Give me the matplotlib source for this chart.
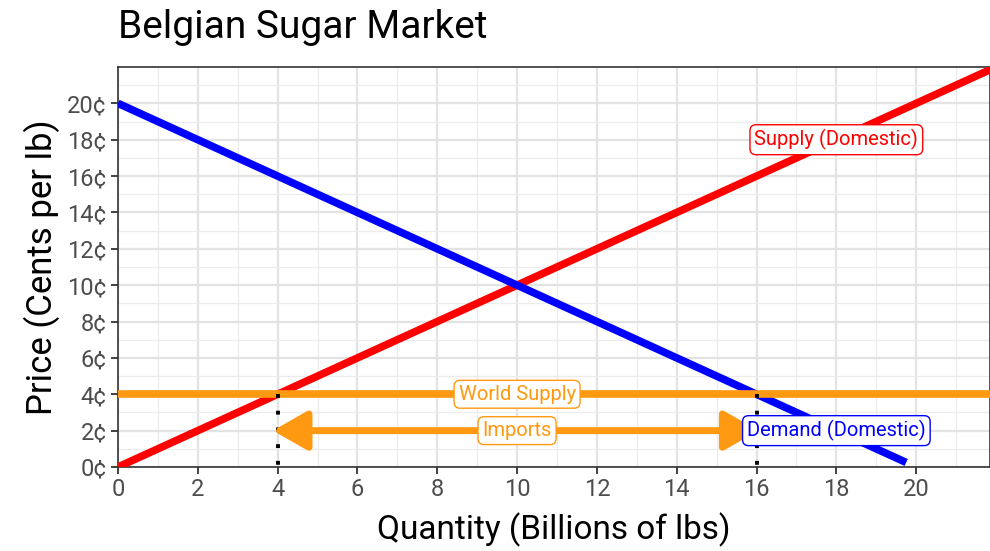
import matplotlib
matplotlib.use("Agg")
import matplotlib.pyplot as plt
from matplotlib import font_manager
import numpy as np

# data
supply_q = [0, 22]
supply_p = [0, 22]
demand_q = [0, 19.75]
demand_p = [20, 0.25]
world_price = 4
q_domestic = 4
q_demand = 16
import_level = 2
x_ticks = list(range(0, 21, 2))
y_ticks = list(range(0, 21, 2))
y_labels = [f"{v}¢" for v in y_ticks]

names = {f.name for f in font_manager.fontManager.ttflist}
fam = "Liberation Sans Narrow" if "Liberation Sans Narrow" in names else "Roboto"
plt.rcParams['font.family'] = [fam, 'DejaVu Sans']

orange = "#FF9912"
fig = plt.figure(figsize=(9.9, 5.51), dpi=100)
ax = fig.add_axes([118/990, 1-467/551, 1-118/990, (467-67)/551])

ax.set_xlim(0, 21.85)
ax.set_ylim(0, 22)

ax.set_xticks(x_ticks)
ax.set_yticks(y_ticks)
ax.set_yticklabels(y_labels)
ax.set_xticks(np.arange(1, 22, 2), minor=True)
ax.set_yticks(np.arange(1, 22, 2), minor=True)
ax.grid(which='major', color='#e3e3e3', lw=1.6, zorder=0)
ax.grid(which='minor', color='#ececec', lw=0.9, zorder=0)
ax.tick_params(which='minor', length=0)
ax.tick_params(which='major', length=5, width=1.3, color='#333333',
               labelsize=17, labelcolor='#4d4d4d', pad=3)
for s in ax.spines.values():
    s.set_color('#333333')
    s.set_linewidth(1.2)
ax.set_axisbelow(True)

ax.plot(supply_q, supply_p, color='#FF0000', lw=5.5, solid_capstyle='butt', zorder=3)
ax.plot(demand_q, demand_p, color='#0000FF', lw=5.5, solid_capstyle='butt', zorder=3)
ax.axhline(world_price, color=orange, lw=5.5, zorder=3)

# dotted verticals, drawn from the world price down
for q in (q_domestic, q_demand):
    ax.plot([q, q], [world_price, 0], color='black', ls=(0, (1, 3.3)), lw=2.8,
            dash_capstyle='butt', zorder=3.5)

ax.annotate("", xy=(q_domestic - 0.12, import_level), xytext=(q_demand + 0.05, import_level),
            arrowprops=dict(arrowstyle="<|-|>,head_length=2.1,head_width=1.2",
                            color=orange, lw=5, shrinkA=0, shrinkB=0,
                            joinstyle='round'), zorder=4)

def lab(x, y, t, c):
    ax.text(x, y, t, color=c, fontsize=14.5, ha='center', va='center', zorder=5,
            bbox=dict(boxstyle='round,pad=0.22,rounding_size=0.3', fc='white', ec=c, lw=1))

lab(10, world_price, "World Supply", orange)
lab(10, import_level, "Imports", orange)
lab(18, import_level, "Demand (Domestic)", '#0000FF')
lab(18, 18, "Supply (Domestic)", '#FF0000')

ax.set_xlabel("Quantity (Billions of lbs)", fontsize=24, labelpad=8)
ax.set_ylabel("Price (Cents per lb)", fontsize=25, labelpad=5)
fig.text(118/990, 1-27/551, "Belgian Sugar Market", fontsize=28, ha='left', va='center')

fig.savefig("out.png", dpi=100)
